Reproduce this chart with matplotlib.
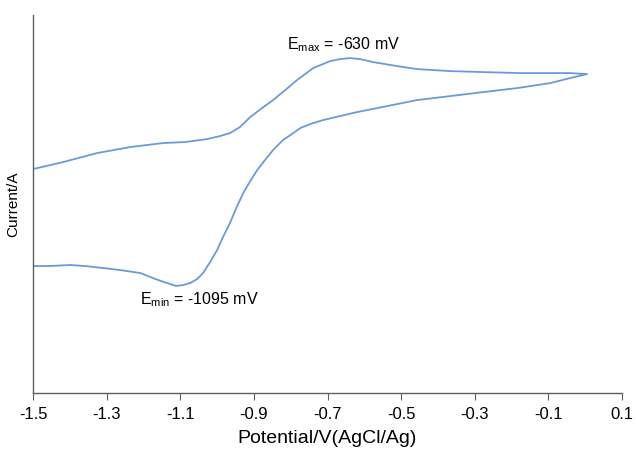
import matplotlib
matplotlib.use("Agg")
from matplotlib import pyplot as plt

plt.rcParams['font.family'] = ['Liberation Sans', 'DejaVu Sans']
plt.rcParams['mathtext.default'] = 'regular'

# cyclic voltammogram, current in arbitrary units (uA)
# forward (anodic) sweep
v_fwd = [-1.500, -1.418, -1.326, -1.236, -1.147, -1.087, -1.027, -0.992, -0.965,
         -0.938, -0.910, -0.878, -0.848, -0.815, -0.783, -0.739, -0.693, -0.666,
         -0.639, -0.611, -0.576, -0.511, -0.457, -0.367, -0.277, -0.177, -0.095,
         -0.041, 0.005]
i_fwd = [3.1, 3.8, 4.7, 5.3, 5.7, 5.8, 6.1, 6.4, 6.7,
         7.3, 8.3, 9.2, 10.0, 11.0, 12.0, 13.2, 13.9, 14.1,
         14.2, 14.1, 13.8, 13.4, 13.1, 12.9, 12.8, 12.7, 12.7,
         12.7, 12.6]

# reverse (cathodic) sweep
v_rev = [0.005, -0.041, -0.095, -0.185, -0.277, -0.367, -0.457, -0.511, -0.565,
         -0.620, -0.666, -0.712, -0.747, -0.774, -0.793, -0.821, -0.848, -0.870,
         -0.891, -0.910, -0.929, -0.948, -0.965, -0.984, -1.000, -1.019, -1.038,
         -1.054, -1.073, -1.092, -1.111, -1.136, -1.168, -1.209, -1.264, -1.310,
         -1.359, -1.399, -1.454, -1.500]
i_rev = [12.6, 12.2, 11.7, 11.2, 10.8, 10.4, 10.0, 9.6, 9.2,
         8.8, 8.4, 8.0, 7.6, 7.2, 6.7, 6.0, 5.0, 4.0,
         3.0, 1.9, 0.7, -0.8, -2.3, -3.7, -5.0, -6.2, -7.3,
         -7.9, -8.3, -8.5, -8.6, -8.3, -7.9, -7.3, -7.0, -6.8,
         -6.6, -6.5, -6.6, -6.6]

xticks = [-1.5, -1.3, -1.1, -0.9, -0.7, -0.5, -0.3, -0.1, 0.1]

fig = plt.figure(figsize=(6.36, 4.58), dpi=100)
ax = fig.add_axes([0.052, 0.142, 0.926, 0.825])

line_col = '#6a9ad8'
ax.plot(v_fwd + v_rev, i_fwd + i_rev, color=line_col, lw=1.3)

ax.set_xlim(-1.5, 0.1)
ax.set_ylim(-19.3, 18.5)
ax.set_xticks(xticks)
ax.set_xticklabels(['%g' % t for t in xticks], fontsize=12)
ax.set_yticks([])
ax.tick_params(axis='x', direction='out', length=5, color='#606060', pad=5)

for s in ['top', 'right']:
    ax.spines[s].set_visible(False)
for s in ['left', 'bottom']:
    ax.spines[s].set_color('#606060')
    ax.spines[s].set_linewidth(1.0)

ax.set_xlabel('Potential/V(AgCl/Ag)', fontsize=14, labelpad=6)
ax.set_ylabel('Current/A', fontsize=11, labelpad=9)

ax.text(-0.81, 15.5, r'E$_{max}$ = -630 mV', fontsize=11.5, va='center', ha='left')
ax.text(-1.21, -10.0, r'E$_{min}$ = -1095 mV', fontsize=11.5, va='center', ha='left')

plt.savefig('out.png', dpi=100)
